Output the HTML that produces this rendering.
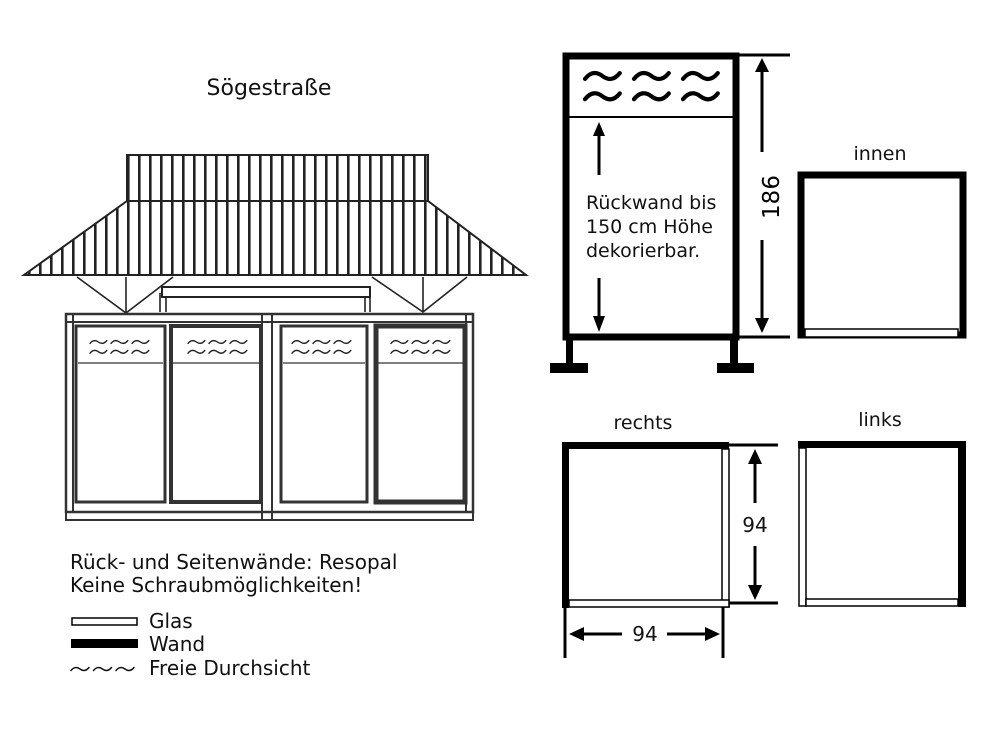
<!DOCTYPE html>
<html><head><meta charset="utf-8"><style>
html,body{margin:0;padding:0;background:#fff;}
svg{display:block;font-family:"DejaVu Sans","Liberation Sans",sans-serif;}
</style></head><body>
<svg width="1000" height="750" viewBox="0 0 1000 750">
<defs>
<pattern id="str" x="127" y="0" width="11" height="10" patternUnits="userSpaceOnUse">
<rect x="0" y="0" width="2.6" height="10" fill="#222"/>
</pattern>
<path id="w" d="M0,2 C4,-3 8,-3 12,0 S20,3 24,-2" fill="none" stroke-linecap="round"/>
</defs>
<rect width="1000" height="750" fill="#fff"/>
<text x="269" y="95" font-size="22" text-anchor="middle" fill="#111">Sögestraße</text>

<!-- roof -->
<g stroke="#222" stroke-width="2" fill="url(#str)">
<rect x="127" y="155" width="301" height="46"/>
<polygon points="127,201 428,201 526,275 24,275"/>
</g>
<g stroke="#222" stroke-width="1.6" fill="none">
<polyline points="77,277 126,313 173,277"/>
<line x1="126" y1="277" x2="126" y2="313"/>
<polyline points="372,277 423,312 467,277"/>
<line x1="423" y1="277" x2="423" y2="312"/>
<rect x="162" y="287" width="208" height="10" stroke-width="2"/>
<line x1="160" y1="293" x2="160" y2="312"/><line x1="166" y1="297" x2="166" y2="312"/>
<line x1="365" y1="297" x2="365" y2="312"/><line x1="370" y1="297" x2="370" y2="312"/>
</g>
<!-- cabinet -->
<g stroke="#333" fill="none">
<rect x="66" y="314" width="407" height="198" stroke-width="2.5"/>
<line x1="66" y1="322" x2="473" y2="322" stroke-width="2"/>
<rect x="66" y="512" width="407" height="8" stroke-width="2"/>
<line x1="73" y1="314" x2="73" y2="512" stroke-width="2"/>
<line x1="466" y1="314" x2="466" y2="512" stroke-width="2"/>
<line x1="262" y1="314" x2="262" y2="520" stroke-width="2"/>
<line x1="272" y1="314" x2="272" y2="520" stroke-width="2"/>
<rect x="76" y="326" width="89" height="176" stroke-width="3"/>
<rect x="171" y="326" width="90" height="176" stroke-width="4"/>
<rect x="281" y="326" width="86" height="176" stroke-width="3"/>
<rect x="376" y="326" width="89" height="176" stroke-width="5"/>
<g stroke-width="1.2">
<line x1="78" y1="363" x2="163" y2="363"/><line x1="173" y1="363" x2="259" y2="363"/>
<line x1="283" y1="363" x2="365" y2="363"/><line x1="378" y1="363" x2="463" y2="363"/>
</g>
</g>
<g stroke="#222" stroke-width="2">
<g transform="translate(90,342) scale(0.7)"><use href="#w"/><use href="#w" x="30"/><use href="#w" x="60"/><use href="#w" y="14"/><use href="#w" x="30" y="14"/><use href="#w" x="60" y="14"/></g>
<g transform="translate(188,342) scale(0.7)"><use href="#w"/><use href="#w" x="30"/><use href="#w" x="60"/><use href="#w" y="14"/><use href="#w" x="30" y="14"/><use href="#w" x="60" y="14"/></g>
<g transform="translate(292,342) scale(0.7)"><use href="#w"/><use href="#w" x="30"/><use href="#w" x="60"/><use href="#w" y="14"/><use href="#w" x="30" y="14"/><use href="#w" x="60" y="14"/></g>
<g transform="translate(391,342) scale(0.7)"><use href="#w"/><use href="#w" x="30"/><use href="#w" x="60"/><use href="#w" y="14"/><use href="#w" x="30" y="14"/><use href="#w" x="60" y="14"/></g>
</g>

<!-- legend -->
<g font-size="20" fill="#111">
<text x="70" y="569">Rück- und Seitenwände: Resopal</text>
<text x="70" y="592">Keine Schraubmöglichkeiten!</text>
<text x="149" y="628">Glas</text>
<text x="149" y="651">Wand</text>
<text x="149" y="675">Freie Durchsicht</text>
</g>
<g stroke="#111" stroke-width="2" transform="translate(71,669) scale(0.75)">
<use href="#w"/><use href="#w" x="30"/><use href="#w" x="60"/>
</g>
<rect x="72" y="618" width="65" height="7" fill="#fff" stroke="#000" stroke-width="1.5"/>
<rect x="71" y="639" width="67" height="9" fill="#000"/>

<!-- main elevation right -->
<rect x="566" y="56" width="170" height="281" fill="none" stroke="#000" stroke-width="7"/>
<line x1="569" y1="117" x2="733" y2="117" stroke="#000" stroke-width="2"/>
<rect x="566" y="340" width="7" height="25" fill="#000"/>
<rect x="550" y="363" width="38" height="10" fill="#000"/>
<rect x="730" y="340" width="8" height="25" fill="#000"/>
<rect x="717" y="363" width="37" height="10" fill="#000"/>
<g stroke="#000" stroke-width="2.9">
<g transform="translate(585,76) scale(1.45)"><use href="#w"/><use href="#w" y="14"/></g>
<g transform="translate(634,76) scale(1.45)"><use href="#w"/><use href="#w" y="14"/></g>
<g transform="translate(683,76) scale(1.45)"><use href="#w"/><use href="#w" y="14"/></g>
</g>
<g stroke="#000" stroke-width="3">
<line x1="739" y1="55" x2="790" y2="55"/><line x1="739" y1="337" x2="790" y2="337"/>
<line x1="762" y1="68" x2="762" y2="152"/><line x1="762" y1="240" x2="762" y2="320"/>
<line x1="599" y1="136" x2="599" y2="175"/><line x1="599" y1="278" x2="599" y2="318"/>
</g>
<g fill="#000">
<polygon points="762,58 755,72 769,72"/><polygon points="762,333 755,318 769,318"/>
<polygon points="599,122 593,136 605,136"/><polygon points="599,332 593,316 605,316"/>
</g>
<text transform="translate(779,197) rotate(-90)" font-size="23" text-anchor="middle" fill="#000">186</text>
<g font-size="19" fill="#111">
<text x="586" y="209">Rückwand bis</text>
<text x="586" y="233">150 cm Höhe</text>
<text x="586" y="257">dekorierbar.</text>
</g>

<!-- innen -->
<text x="880" y="160" font-size="19" text-anchor="middle" fill="#111">innen</text>
<rect x="801" y="175" width="162" height="160" fill="none" stroke="#000" stroke-width="7"/>
<rect x="805" y="329" width="153" height="8" fill="#fff" stroke="#000" stroke-width="1.5"/>

<!-- rechts -->
<text x="643" y="429" font-size="19" text-anchor="middle" fill="#111">rechts</text>
<rect x="562" y="442" width="167" height="7" fill="#000"/>
<rect x="562" y="442" width="7" height="166" fill="#000"/>
<rect x="722" y="449" width="7" height="158" fill="#fff" stroke="#000" stroke-width="1.5"/>
<rect x="569" y="600" width="160" height="7" fill="#fff" stroke="#000" stroke-width="1.5"/>
<g stroke="#000" stroke-width="3">
<line x1="729" y1="445" x2="778" y2="445"/><line x1="729" y1="603" x2="778" y2="603"/>
<line x1="755" y1="462" x2="755" y2="503"/><line x1="755" y1="546" x2="755" y2="588"/>
<line x1="565" y1="607" x2="565" y2="658"/><line x1="723" y1="607" x2="723" y2="658"/>
<line x1="580" y1="634" x2="622" y2="634"/><line x1="667" y1="634" x2="710" y2="634"/>
</g>
<g fill="#000">
<polygon points="755,449 748,464 762,464"/><polygon points="755,600 748,585 762,585"/>
<polygon points="569,634 584,627 584,641"/><polygon points="720,634 705,627 705,641"/>
</g>
<text x="755" y="532" font-size="20" text-anchor="middle" fill="#111">94</text>
<text x="645" y="641" font-size="20" text-anchor="middle" fill="#111">94</text>

<!-- links -->
<text x="880" y="426" font-size="19" text-anchor="middle" fill="#111">links</text>
<rect x="798" y="441" width="168" height="7" fill="#000"/>
<rect x="958" y="441" width="8" height="166" fill="#000"/>
<rect x="799" y="448" width="7" height="158" fill="#fff" stroke="#000" stroke-width="1.5"/>
<rect x="806" y="599" width="152" height="7" fill="#fff" stroke="#000" stroke-width="1.5"/>
</svg>
</body></html>
